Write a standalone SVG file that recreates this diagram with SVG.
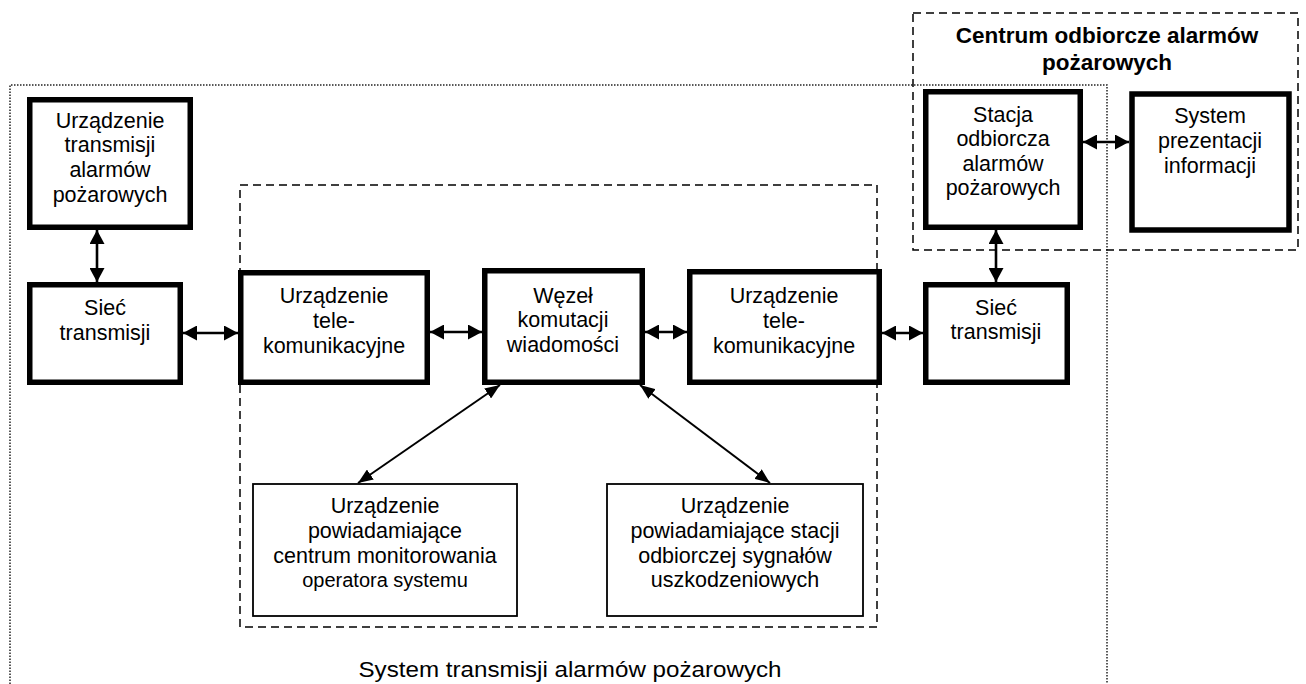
<svg xmlns="http://www.w3.org/2000/svg" width="1306" height="684" viewBox="0 0 1306 684">
<style>
  text { font-family: "Liberation Sans", Arial, sans-serif; font-size: 21.5px; fill: #000; text-anchor: middle; }
  .small { font-size: 20px; }
  .title { font-weight: bold; font-size: 22.5px; }
  .thick { fill: #fff; stroke: #000; stroke-width: 5.5; }
  .thin { fill: #fff; stroke: #000; stroke-width: 1.8; }
  .dashed { fill: none; stroke: #000; stroke-width: 1.5; stroke-dasharray: 8 5; }
  .dotted { fill: none; stroke: #222; stroke-width: 1.5; stroke-dasharray: 1.5 1.5; }
  .conn { stroke: #000; stroke-width: 2.6; fill: none; marker-start: url(#ah); marker-end: url(#ah); }
  .diag { stroke: #000; stroke-width: 2; fill: none; marker-start: url(#ah2); marker-end: url(#ah2); }
</style>
<defs>
  <marker id="ah" markerUnits="userSpaceOnUse" viewBox="0 0 14 15" refX="14" refY="7.5" markerWidth="14" markerHeight="15" orient="auto-start-reverse">
    <path d="M0,0 L14,7.5 L0,15 z" fill="#000"/>
  </marker>
  <marker id="ah2" markerUnits="userSpaceOnUse" viewBox="0 0 15 12" refX="15" refY="6" markerWidth="15" markerHeight="12" orient="auto-start-reverse">
    <path d="M0,0 L15,6 L0,12 z" fill="#000"/>
  </marker>
</defs>
<rect width="1306" height="684" fill="#fff"/>

<g id="frames">
  <path class="dotted" d="M10,690 V85 H1107 V690"/>
  <rect class="dashed" x="240" y="185" width="637" height="442"/>
  <rect class="dashed" x="913" y="13" width="385" height="237"/>
  <text class="title" x="1107" y="43">Centrum odbiorcze alarmów</text>
  <text class="title" x="1107" y="70">pożarowych</text>
  <text x="570" y="677" font-size="26" textLength="423" lengthAdjust="spacingAndGlyphs">System transmisji alarmów pożarowych</text>
</g>

<g id="connectors">
  <line class="conn" x1="97" y1="230" x2="97" y2="282"/>
  <line class="conn" x1="183" y1="333" x2="238" y2="333"/>
  <line class="conn" x1="430" y1="332" x2="482" y2="332"/>
  <line class="conn" x1="645" y1="332" x2="687" y2="332"/>
  <line class="conn" x1="882" y1="333" x2="923" y2="333"/>
  <line class="conn" x1="996" y1="230" x2="996" y2="282"/>
  <line class="conn" x1="1083" y1="142" x2="1129" y2="142"/>
  <line class="diag" x1="500" y1="385" x2="358" y2="483"/>
  <line class="diag" x1="640" y1="385" x2="770" y2="483"/>
</g>

<g id="n-uta">
  <rect class="thick" x="29.75" y="99.75" width="160.5" height="127.5"/>
  <text x="110" y="128">Urządzenie</text>
  <text x="110" y="152">transmisji</text>
  <text x="110" y="177">alarmów</text>
  <text x="110" y="202">pożarowych</text>
</g>

<g id="n-siec-l">
  <rect class="thick" x="29.75" y="284.75" width="150.5" height="97.5"/>
  <text x="105" y="315">Sieć</text>
  <text x="105" y="340">transmisji</text>
</g>

<g id="n-tele-l">
  <rect class="thick" x="240.75" y="272.75" width="186.5" height="109.5"/>
  <text x="334" y="303">Urządzenie</text>
  <text x="334" y="328">tele-</text>
  <text x="334" y="353">komunikacyjne</text>
</g>

<g id="n-wezel">
  <rect class="thick" x="484.75" y="270.75" width="157.5" height="111.5"/>
  <text x="563" y="303">Węzeł</text>
  <text x="563" y="327">komutacji</text>
  <text x="563" y="352">wiadomości</text>
</g>

<g id="n-tele-r">
  <rect class="thick" x="689.75" y="271.75" width="189.5" height="110.5"/>
  <text x="784" y="303">Urządzenie</text>
  <text x="784" y="328">tele-</text>
  <text x="784" y="353">komunikacyjne</text>
</g>

<g id="n-siec-r">
  <rect class="thick" x="925.75" y="284.75" width="141.5" height="97.5"/>
  <text x="996" y="315">Sieć</text>
  <text x="996" y="339">transmisji</text>
</g>

<g id="n-stacja">
  <rect class="thick" x="925.75" y="91.75" width="154.5" height="135.5"/>
  <text x="1003" y="122">Stacja</text>
  <text x="1003" y="146">odbiorcza</text>
  <text x="1003" y="171">alarmów</text>
  <text x="1003" y="195">pożarowych</text>
</g>

<g id="n-system">
  <rect class="thick" x="1132" y="94" width="157" height="136" stroke-width="6.5"/>
  <text x="1210" y="123">System</text>
  <text x="1210" y="148">prezentacji</text>
  <text x="1210" y="173">informacji</text>
</g>

<g id="n-pow-l">
  <rect class="thin" x="253" y="484" width="264" height="132"/>
  <text x="385" y="513">Urządzenie</text>
  <text x="385" y="538">powiadamiające</text>
  <text x="385" y="563">centrum monitorowania</text>
  <text class="small" x="385" y="587">operatora systemu</text>
</g>

<g id="n-pow-r">
  <rect class="thin" x="607" y="484" width="256" height="132"/>
  <text x="735" y="513">Urządzenie</text>
  <text x="735" y="538">powiadamiające stacji</text>
  <text x="735" y="563">odbiorczej sygnałów</text>
  <text x="735" y="587">uszkodzeniowych</text>
</g>
</svg>
